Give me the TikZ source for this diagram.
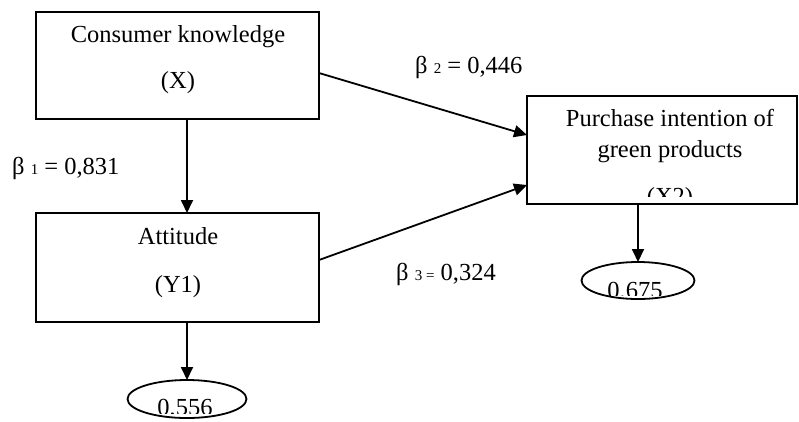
\documentclass[tikz,border=0pt]{standalone}
\usepackage{fontspec}
\setmainfont{Liberation Serif}
\usetikzlibrary{arrows.meta,shapes.geometric}
\begin{document}
\begin{tikzpicture}[x=1pt,y=-1pt,
  box/.style={draw,line width=1.8pt,inner sep=0pt,outer sep=0pt},
  oval/.style={draw,ellipse,line width=1.8pt,inner sep=0pt,outer sep=0pt},
  arr/.style={line width=1.8pt,-{Triangle[length=13pt,width=12pt]}},
  txt/.style={anchor=base,inner sep=0pt,font=\fontsize{24.5}{28}\selectfont},
  lbl/.style={anchor=base west,inner sep=0pt,font=\fontsize{24.5}{28}\selectfont}]
\useasboundingbox (0,0) rectangle (799,421);
% boxes
\node[box,minimum width=283pt,minimum height=107pt] (X) at (177.5,65.5) {};
\node[box,minimum width=283pt,minimum height=109pt] (Y1) at (177.5,267.5) {};
\node[box,minimum width=270pt,minimum height=108pt] (Y2) at (662,150) {};
\node[oval,minimum width=113pt,minimum height=37pt] (E2) at (638,280.5) {};
\node[oval,minimum width=119pt,minimum height=38pt] (E1) at (187,399) {};
% texts
\node[txt] (tx1) at (178,42) {Consumer knowledge};
\node[txt] (tx2) at (178,88) {(X)};
\node[txt] (ty1) at (178,244) {Attitude};
\node[txt] (ty2) at (178,292) {(Y1)};
\node[txt] (tz1) at (670,126) {Purchase intention of};
\node[txt] (tz2) at (670,157) {green products};
\begin{scope}
  \clip (560,170) rectangle (780,196);
  \node[txt] (tz3) at (670,204) {(X2)};
\end{scope}
\begin{scope}
  \clip (590,270) rectangle (690,295);
  \node[txt] (te2) at (635,298) {0,675};
\end{scope}
\begin{scope}
  \clip (135,385) rectangle (240,413);
  \node[txt] (te1) at (185,415) {0,556};
\end{scope}
% labels
\node[lbl] (b1) at (12,174) {β {\fontsize{15}{17}\selectfont 1} = 0,831};
\node[lbl] (b2) at (415,73) {β {\fontsize{15}{17}\selectfont 2} = 0,446};
\node[lbl] (b3) at (396,280) {β {\fontsize{15}{17}\selectfont 3 =} 0,324};
% arrows
\draw[arr] (X.south -| E1.center) -- (Y1.north -| E1.center);
\draw[arr] (Y1.south -| E1.center) -- (E1.north);
\draw[arr] (Y2.south -| E2.center) -- (E2.north);
\draw[arr] ([yshift=-7.5pt]X.east) -- ([yshift=15pt]Y2.west);
\draw[arr] ([yshift=7.5pt]Y1.east) -- ([yshift=-35pt]Y2.west);
\end{tikzpicture}
\end{document}
